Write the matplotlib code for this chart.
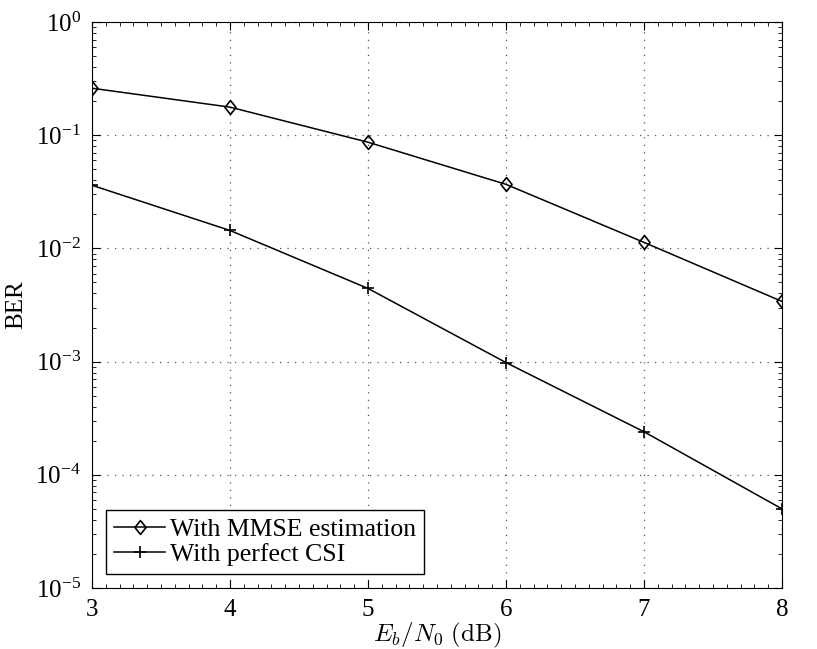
import numpy as np
import matplotlib
matplotlib.use('Agg')
import matplotlib.pyplot as plt
import matplotlib.ticker as mticker
from matplotlib.path import Path

plt.rcParams['font.family'] = ['Liberation Serif', 'DejaVu Serif']
plt.rcParams['mathtext.fontset'] = 'stix'

ebn0 = [3, 4, 5, 6, 7, 8]
ber_mmse = [0.26, 0.177, 0.0867, 0.0368, 0.0113, 0.0034]
ber_csi = [0.0361, 0.0144, 0.00443, 0.00098, 0.00024, 5.0e-5]

# matlab style diamond (a bit wider than mpl 'd')
diamond = Path([(0, 1), (0.8, 0), (0, -1), (-0.8, 0), (0, 1)],
               [Path.MOVETO, Path.LINETO, Path.LINETO, Path.LINETO, Path.CLOSEPOLY])

fig = plt.figure(figsize=(8.17, 6.49), dpi=100)
ax = fig.add_axes([92/817, 1 - 588/649, (782-92)/817, (588-22)/649])

ax.semilogy(ebn0, ber_mmse, 'k-', marker=diamond, markersize=10, markerfacecolor='none',
            markeredgewidth=1.2, linewidth=1.1, label='With MMSE estimation')
ax.semilogy(ebn0, ber_csi, 'k-', marker='+', markersize=9, markeredgewidth=1.2,
            linewidth=1.1, label='With perfect CSI')

ax.set_xlim(3, 8)
ax.set_ylim(1e-5, 1)
ax.set_xticks(ebn0)
ax.xaxis.set_minor_locator(mticker.MultipleLocator(0.1))
ax.yaxis.set_major_locator(mticker.LogLocator(base=10, numticks=10))
ax.yaxis.set_minor_locator(mticker.LogLocator(base=10, subs=np.arange(2, 10), numticks=20))
ax.yaxis.set_minor_formatter(mticker.NullFormatter())

ax.tick_params(which='both', direction='in', top=True, right=True, labelsize=18, pad=8)
ax.tick_params(which='major', length=6)
ax.tick_params(which='minor', length=3)
ax.grid(True, which='major', linestyle=(0, (1, 5)), color='#555555', linewidth=0.9)

ax.set_xlabel(r'$E_b/N_0\ \mathrm{(dB)}$', fontsize=18, labelpad=0, math_fontfamily='cm')
ax.set_ylabel('BER', fontsize=18, labelpad=6)

leg = ax.legend(loc='lower left', fontsize=18.5, fancybox=False, edgecolor='k',
                framealpha=1, handlelength=2.0, borderaxespad=0.55,
                handletextpad=0.2, labelspacing=0.1, borderpad=0.3)
leg.get_frame().set_linewidth(1.0)

fig.savefig('out.png', dpi=100)
